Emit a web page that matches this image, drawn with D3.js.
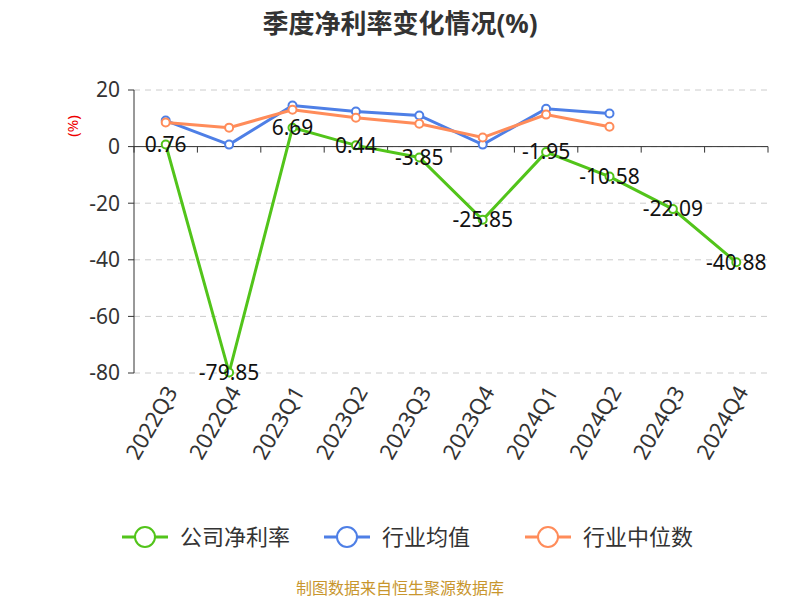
<!DOCTYPE html><html><head><meta charset="utf-8"><script src="https://cdn.jsdelivr.net/npm/d3@7"></script>
<style>body{margin:0;background:#fff}text{font-family:"Noto Sans","Noto Sans CJK SC",sans-serif}</style></head><body><svg id="c" width="800" height="600"></svg><script>
const categories=["2022Q3","2022Q4","2023Q1","2023Q2","2023Q3","2023Q4","2024Q1","2024Q2","2024Q3","2024Q4"];
const company=[0.76,-79.85,6.69,0.44,-3.85,-25.85,-1.95,-10.58,-22.09,-40.88];
const industryAvg=[9.2,0.7,14.5,12.4,11.0,0.7,13.4,11.7,null,null];
const industryMed=[8.5,6.7,13.0,10.2,8.1,3.2,11.3,7.0,null,null];
const yTicks=[20,0,-20,-40,-60,-80];
const seriesNames=["公司净利率","行业均值","行业中位数"];
const colors=["#52c41a","#4e7fe6","#ff8c5a"];
const svg=d3.select("#c");
const x=d3.scaleBand().domain(categories).range([134,768]);
const y=d3.scaleLinear().domain([-80,20]).range([373,90]);
svg.append("text").attr("x",400).attr("y",33).attr("text-anchor","middle").attr("font-size",26).attr("font-weight","bold").attr("fill","#333").text("季度净利率变化情况(%)");
yTicks.forEach(t=>{svg.append("line").attr("x1",134).attr("x2",768).attr("y1",y(t)).attr("y2",y(t)).attr("stroke","#ccc").attr("stroke-dasharray","6,5");
svg.append("text").attr("x",120).attr("y",y(t)).attr("dy","0.35em").attr("text-anchor","end").attr("font-size",21).attr("fill","#333").text(t);
svg.append("line").attr("x1",128).attr("x2",134).attr("y1",y(t)).attr("y2",y(t)).attr("stroke","#333");});
svg.append("line").attr("x1",134).attr("x2",134).attr("y1",y(20)).attr("y2",y(-80)).attr("stroke","#333");
svg.append("line").attr("x1",134).attr("x2",768).attr("y1",y(0)).attr("y2",y(0)).attr("stroke","#333");
categories.concat([null]).forEach((c,i)=>{const xx=134+i*x.bandwidth();svg.append("line").attr("x1",xx).attr("x2",xx).attr("y1",y(0)).attr("y2",y(0)+6).attr("stroke","#333");});
categories.forEach(c=>{const cx=x(c)+x.bandwidth()/2;svg.append("text").attr("transform",`translate(${cx+6},${388}) rotate(-60)`).attr("text-anchor","end").attr("dy","0.35em").attr("font-size",22).attr("fill","#333").text(c);});
svg.append("text").attr("transform","translate(78,126) rotate(-90)").attr("text-anchor","middle").attr("font-size",15).attr("fill","#e00").text("(%)");
const cx=c=>x(c)+x.bandwidth()/2;
function draw(vals,col){const pts=categories.map((c,i)=>[c,vals[i]]).filter(d=>d[1]!=null);
svg.append("path").attr("d",d3.line().x(d=>cx(d[0])).y(d=>y(d[1]))(pts)).attr("fill","none").attr("stroke",col).attr("stroke-width",3);
pts.forEach(d=>svg.append("circle").attr("cx",cx(d[0])).attr("cy",y(d[1])).attr("r",4).attr("fill","#fff").attr("stroke",col).attr("stroke-width",2));}
draw(industryAvg,colors[1]);draw(industryMed,colors[2]);draw(company,colors[0]);
company.forEach((v,i)=>svg.append("text").attr("x",cx(categories[i])).attr("y",y(v)).attr("dy","0.35em").attr("text-anchor","middle").attr("font-size",21).attr("fill","#111").text(v));
const lx=[122,324,525];
seriesNames.forEach((n,i)=>{const g=svg.append("g");g.append("line").attr("x1",lx[i]).attr("x2",lx[i]+46).attr("y1",537).attr("y2",537).attr("stroke",colors[i]).attr("stroke-width",3);
g.append("circle").attr("cx",lx[i]+23).attr("cy",537).attr("r",10).attr("fill","#fff").attr("stroke",colors[i]).attr("stroke-width",2);
g.append("text").attr("x",lx[i]+58).attr("y",537).attr("dy","0.35em").attr("font-size",22).attr("fill","#333").text(n);});
svg.append("text").attr("x",400).attr("y",594).attr("text-anchor","middle").attr("font-size",16).attr("fill","#c8962e").text("制图数据来自恒生聚源数据库");
</script></body></html>
